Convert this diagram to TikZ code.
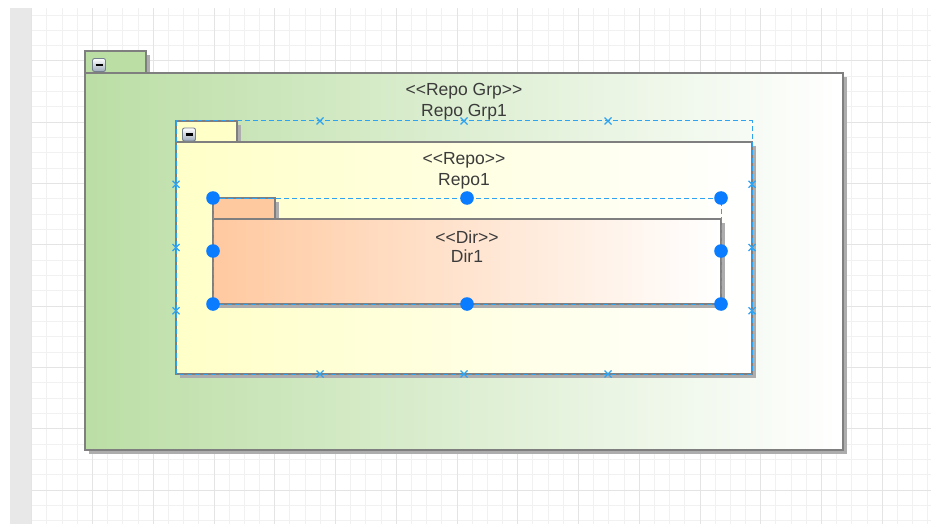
\documentclass[tikz,border=0pt]{standalone}
\usepackage{fontspec}
\setmainfont{Liberation Sans}
\definecolor{grpL}{HTML}{BBDEA5}
\definecolor{repoL}{HTML}{FFFFC8}
\definecolor{repoM}{HTML}{FFFFDC}
\definecolor{dirL}{HTML}{FFC9A0}
\definecolor{bord}{HTML}{7F7F7F}
\definecolor{shad}{HTML}{ADADAD}
\definecolor{selb}{HTML}{2EA3F2}
\definecolor{handle}{HTML}{0A7CFF}
\definecolor{txt}{HTML}{3B3B3B}
\definecolor{gridminor}{HTML}{F1F1F1}
\definecolor{gridmajor}{HTML}{E4E4E4}
\definecolor{strip}{HTML}{E8E8E8}
\definecolor{btnB}{HTML}{9DAABA}
\definecolor{btnD}{HTML}{74808E}
\pgfdeclarehorizontalshading{grpsh}{100bp}{color(0bp)=(grpL); color(25bp)=(grpL); color(75bp)=(white); color(100bp)=(white)}
\pgfdeclarehorizontalshading{reposh}{100bp}{color(0bp)=(repoL); color(25bp)=(repoL); color(45bp)=(repoM); color(75bp)=(white); color(100bp)=(white)}
\pgfdeclarehorizontalshading{dirsh}{100bp}{color(0bp)=(dirL); color(25bp)=(dirL); color(75bp)=(white); color(100bp)=(white)}
\newcommand\dlt{<\kern0pt<}
\newcommand\dgt{>\kern0pt>}
\newcommand\xmk[2]{\draw[selb,line width=1.2pt] ({#1-3.5},{#2-3.5}) -- ({#1+3.5},{#2+3.5}) ({#1-3.5},{#2+3.5}) -- ({#1+3.5},{#2-3.5});}
\tikzset{
  bordline/.style={draw=bord,line width=1.3pt},
  selline/.style={draw=selb,line width=1pt,dash pattern=on 5pt off 3pt},
  lbl/.style={text=txt,anchor=base,inner sep=0pt,font=\fontsize{17.5}{21}\selectfont},
  btn/.style={top color=white,bottom color=btnB,draw=btnD,line width=0.9pt,rounded corners=2pt},
}
\begin{document}
\begin{tikzpicture}[x=1pt,y=-1pt]
\useasboundingbox (0,0) rectangle (931,524);
\fill[white] (0,0) rectangle (931,524);
% grid
\foreach \k in {-4,...,55} \draw[gridminor,line width=1pt] ({92.5+\k*15.1875},8) -- ++(0,516);
\foreach \k in {-3,...,30} \draw[gridminor,line width=1pt] (31,{61+\k*15.325}) -- (931,{61+\k*15.325});
\foreach \k in {-1,...,13} \draw[gridmajor,line width=1pt] ({92.5+\k*60.75},8) -- ++(0,516);
\foreach \k in {0,...,7} \draw[gridmajor,line width=1pt] (31,{61+\k*61.3}) -- (931,{61+\k*61.3});
\fill[strip] (10,8) rectangle (31,524);
% Repo Grp
\fill[shad] (89,55) rectangle (150,77);
\fill[shad] (89,77) rectangle (847,454);
\fill[grpL] (85,51) rectangle (146,73);
\shade[shading=grpsh] (85,73) rectangle (843,450);
\draw[bordline] (85,73) -- (85,51) -- (146,51) -- (146,73);
\draw[bordline] (85,73) rectangle (843,450);
\shade[btn] (92.5,58.5) rectangle (105.5,71.5);
\draw[black,line width=2pt] (95.5,65) -- (102.5,65);
\node[lbl] (grpst) at (464,96) {\dlt Repo Grp\dgt};
\node[lbl] (grpnm) at (464,116.5) {Repo Grp1};
% Repo
\fill[shad] (180,125) rectangle (241,146);
\fill[shad] (180,146) rectangle (756,378);
\fill[repoL] (176,121) rectangle (237,142);
\shade[shading=reposh] (176,142) rectangle (752,374);
\draw[bordline] (176,142) -- (176,121) -- (237,121) -- (237,142);
\draw[bordline] (176,142) rectangle (752,374);
\shade[btn] (182.5,128) rectangle (195.5,141);
\draw[black,line width=2pt] (185.5,134.5) -- (192.5,134.5);
\node[lbl] (repost) at (464,164.3) {\dlt Repo\dgt};
\node[lbl] (reponm) at (464,185.5) {Repo1};
% Dir
\fill[shad] (217,202) rectangle (279,223);
\fill[shad] (217,223) rectangle (725,308);
\fill[dirL] (213,198) rectangle (275,219);
\shade[shading=dirsh] (213,219) rectangle (721,304);
\draw[bordline] (213,219) -- (213,198) -- (275,198) -- (275,219);
\draw[bordline] (213,219) rectangle (721,304);
\node[lbl] (dirst) at (467,243.3) {\dlt Dir\dgt};
\node[lbl] (dirnm) at (467,262.7) {Dir1};
% selection of Repo
\draw[selline] (176,121) rectangle (752,374);
\foreach \x in {320,464,608} {\xmk{\x}{121} \xmk{\x}{374}}
\foreach \y in {184.25,247.5,310.75} {\xmk{176}{\y} \xmk{752}{\y}}
% selection of Dir
\draw[selline] (213,198) rectangle (721,304);
\foreach \p in {(213,198),(467,198),(721,198),(213,251),(721,251),(213,304),(467,304),(721,304)}
  \fill[handle] \p circle (6.8);
\end{tikzpicture}
\end{document}
